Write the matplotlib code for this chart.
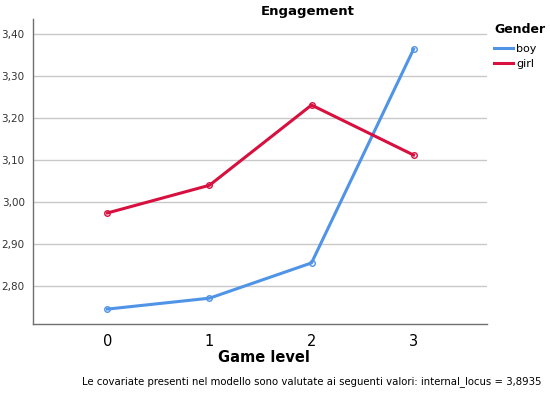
import matplotlib
matplotlib.use("Agg")
import matplotlib.pyplot as plt
from matplotlib.lines import Line2D

levels = [0, 1, 2, 3]
boy = [2.745, 2.771, 2.855, 3.364]
girl = [2.974, 3.040, 3.231, 3.112]
yticks = [2.80, 2.90, 3.00, 3.10, 3.20, 3.30, 3.40]
ytick_labels = ["2,80", "2,90", "3,00", "3,10", "3,20", "3,30", "3,40"]

blue = "#4f94e6"
red = "#d8103f"

plt.rcParams['font.family'] = ['DejaVu Sans']

fig = plt.figure(figsize=(5.5, 3.97), dpi=100)
ax = fig.add_axes([33/550, 1 - 324/397, (487 - 33)/550, (324 - 19)/397])

ax.plot(levels, boy, color=blue, lw=2.2, marker="o", ms=4,
        mfc="none", mec=blue, mew=1, zorder=3)
ax.plot(levels, girl, color=red, lw=2.2, marker="o", ms=4,
        mfc="none", mec=red, mew=1, zorder=3)

ax.set_xlim(-0.73, 3.72)
ax.set_ylim(2.7095, 3.436)
ax.set_xticks(levels)
ax.set_xticklabels([str(l) for l in levels], fontsize=10.5)
ax.set_yticks(yticks)
ax.set_yticklabels(ytick_labels, fontsize=7.5, color="#333333")
ax.tick_params(length=0, pad=6)
ax.tick_params(axis="x", pad=7)
ax.grid(axis="y", color="#c8c8c8", lw=1)
ax.set_axisbelow(True)
for s in ["top", "right"]:
    ax.spines[s].set_visible(False)
for s in ["left", "bottom"]:
    ax.spines[s].set_color("#707070")
    ax.spines[s].set_linewidth(1)

fig.text(308/550, 1 - 11/397, "Engagement", ha="center", va="center",
         fontsize=9.5, fontweight="bold")
fig.text(264/550, 1 - 357/397, "Game level", ha="center", va="center",
         fontsize=10.5, fontweight="bold")

handles = [Line2D([], [], color=blue, lw=2.2), Line2D([], [], color=red, lw=2.2)]
leg = fig.legend(handles, ["boy", "girl"], title="Gender", loc="upper left",
                 bbox_to_anchor=(494/550, 1 - 23/397), frameon=False,
                 fontsize=8, handlelength=1.7, handletextpad=0.3,
                 labelspacing=0.45, borderaxespad=0, borderpad=0)
leg.get_title().set_fontweight("bold")
leg.get_title().set_fontsize(9)
leg._legend_box.align = "left"
leg._legend_box.sep = 6

fig.text(312/550, 1 - 382/397,
         "Le covariate presenti nel modello sono valutate ai seguenti valori: internal_locus = 3,8935",
         ha="center", va="center", fontsize=7.3)

fig.savefig("out.png", dpi=100)
